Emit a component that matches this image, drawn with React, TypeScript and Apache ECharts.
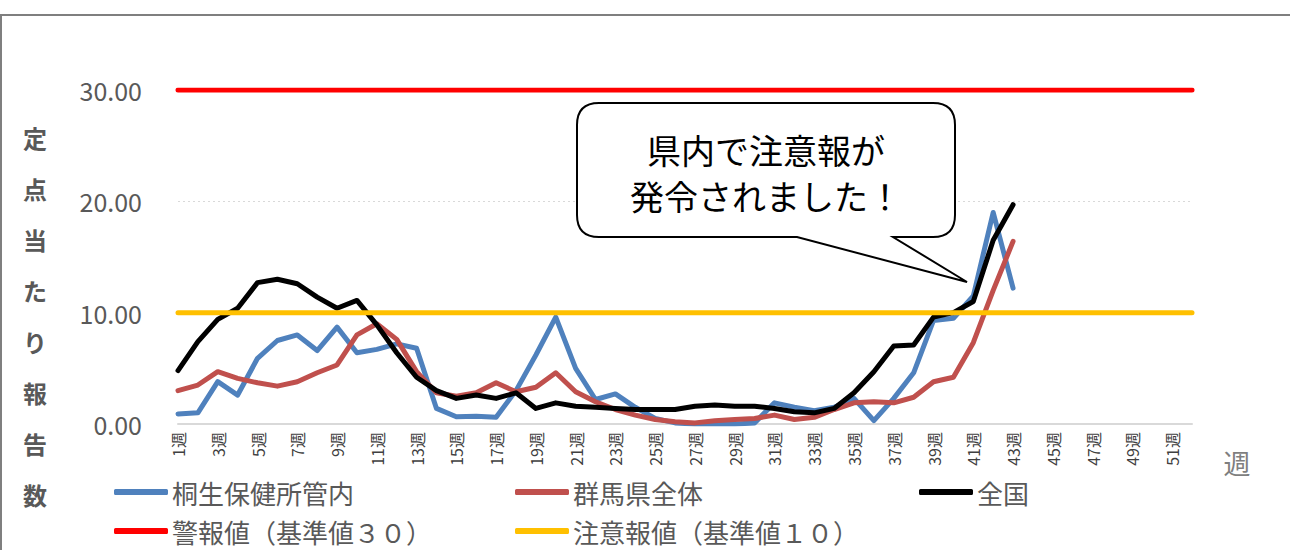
import React, { useEffect, useRef } from "react";
import * as echarts from "echarts";

const weeks = [
  "1週","2週","3週","4週","5週","6週","7週","8週","9週","10週",
  "11週","12週","13週","14週","15週","16週","17週","18週","19週","20週",
  "21週","22週","23週","24週","25週","26週","27週","28週","29週","30週",
  "31週","32週","33週","34週","35週","36週","37週","38週","39週","40週",
  "41週","42週","43週","44週","45週","46週","47週","48週","49週","50週",
  "51週","52週",
];

const kiryu = [0.9,1.0,3.8,2.6,5.9,7.5,8.0,6.6,8.7,6.4,6.7,7.2,6.8,1.4,0.65,0.7,0.6,3.0,6.2,9.6,5.0,2.2,2.7,1.5,0.5,0.1,0.0,0.0,0.0,0.1,1.9,1.5,1.2,1.5,2.3,0.3,2.3,4.6,9.3,9.5,11.5,19.0,12.2];
const gunma = [3.0,3.5,4.7,4.1,3.7,3.4,3.8,4.6,5.3,8.0,9.0,7.6,4.7,2.8,2.5,2.8,3.7,2.9,3.3,4.6,2.9,2.0,1.3,0.8,0.4,0.2,0.1,0.3,0.4,0.5,0.8,0.4,0.6,1.3,1.9,2.0,1.9,2.4,3.8,4.2,7.3,12.0,16.4];
const zenkoku = [4.8,7.4,9.4,10.4,12.7,13.0,12.6,11.4,10.4,11.1,8.9,6.4,4.2,3.0,2.3,2.6,2.3,2.8,1.4,1.9,1.6,1.5,1.4,1.3,1.3,1.3,1.6,1.7,1.6,1.6,1.4,1.1,1.0,1.4,2.8,4.7,7.0,7.1,9.6,10.0,11.0,16.5,19.7];
const warningLevel = 30;
const cautionLevel = 10;
const yTicks = [0, 10, 20, 30];

const seriesNames = ["桐生保健所管内", "群馬県全体", "全国", "警報値（基準値３０）", "注意報値（基準値１０）"];
const yAxisTitle = "定点当たり報告数";
const calloutLines = ["県内で注意報が", "発令されました！"];

const FONT = '"Noto Sans CJK JP", "Noto Sans", sans-serif';

export default function App() {
  const ref = useRef<HTMLDivElement>(null);
  useEffect(() => {
    document.body.style.margin = "0";
    if (!ref.current) return;
    const chart = echarts.init(ref.current, undefined, { renderer: "svg" });

    const W = 378, H = 134, r = 22;
    const d = `M ${r} 0 L ${W - r} 0 Q ${W} 0 ${W} ${r} L ${W} ${H - r} Q ${W} ${H} ${W - r} ${H} L 316 ${H} L 390 179 L 220 ${H} L ${r} ${H} Q 0 ${H} 0 ${H - r} L 0 ${r} Q 0 0 ${r} 0 Z`;
    echarts.graphic.registerShape("callout", echarts.graphic.extendPath(d, {}));

    const colors = ["#4f81bd", "#c0504d", "#000000", "#ff0000", "#ffc000"];
    const lineSeries = (name: string, data: number[], color: string, z: number) => ({
      name,
      type: "line",
      data,
      symbol: "none",
      z,
      itemStyle: { color },
      lineStyle: { color, width: 5, cap: "round", join: "round" },
    });

    const legendPos = [
      { left: 114, top: 479 },
      { left: 515, top: 479 },
      { left: 919, top: 479 },
      { left: 114, top: 518 },
      { left: 515, top: 518 },
    ];

    const graphics: any[] = [
      { type: "line", shape: { x1: 0, y1: 15, x2: 1290, y2: 15 }, style: { stroke: "#7f7f7f", lineWidth: 2 } },
      { type: "line", shape: { x1: 1, y1: 15, x2: 1, y2: 550 }, style: { stroke: "#7f7f7f", lineWidth: 2 } },
      {
        type: "text",
        x: 1237,
        y: 462,
        style: { text: "週", fill: "#7f7f7f", font: `27px ${FONT}`, textAlign: "center", textVerticalAlign: "middle" },
      },
      {
        type: "callout",
        x: 577,
        y: 103,
        z: 100,
        style: { fill: "#ffffff", stroke: "#000000", lineWidth: 2 },
      },
    ];
    calloutLines.forEach((t, i) => {
      graphics.push({
        type: "text",
        x: 766,
        y: 149 + i * 46,
        z: 101,
        style: { text: t, fill: "#000000", font: `34px ${FONT}`, textAlign: "center", textVerticalAlign: "middle" },
      });
    });
    yAxisTitle.split("").forEach((ch, i) => {
      graphics.push({
        type: "text",
        x: 35,
        y: 137 + i * 51,
        style: { text: ch, fill: "#595959", font: `bold 24px ${FONT}`, textAlign: "center", textVerticalAlign: "middle" },
      });
    });

    chart.setOption({
      animation: false,
      backgroundColor: "#ffffff",
      textStyle: { fontFamily: FONT },
      grid: { left: 178, right: 98, top: 90, bottom: 126, containLabel: false },
      legend: seriesNames.map((n, i) => ({
        data: [n],
        left: legendPos[i].left,
        top: legendPos[i].top,
        icon: "roundRect",
        itemWidth: 54,
        itemHeight: 6,
        itemGap: 4,
        padding: 0,
        selectedMode: false,
        textStyle: { fontSize: 26, lineHeight: 26, color: "#595959", fontFamily: FONT, padding: [0, 0, 0, -1] },
      })),
      xAxis: {
        type: "category",
        data: weeks,
        boundaryGap: false,
        axisLine: { show: true, lineStyle: { color: "#d9d9d9", width: 2 } },
        axisTick: { show: false },
        axisLabel: { interval: 1, rotate: 90, fontSize: 16, color: "#404040", margin: 8, fontFamily: FONT },
        splitLine: { show: false },
      },
      yAxis: {
        type: "value",
        min: yTicks[0],
        max: yTicks[yTicks.length - 1],
        interval: 10,
        axisLine: { show: false },
        axisTick: { show: false },
        axisLabel: {
          formatter: (v: number) => v.toFixed(2),
          fontSize: 25,
          color: "#595959",
          margin: 36,
          fontFamily: FONT,
        },
        splitLine: { show: true, lineStyle: { color: "#d9d9d9", width: 1, type: [2, 3] } },
      },
      series: [
        lineSeries(seriesNames[0], kiryu, colors[0], 2),
        lineSeries(seriesNames[1], gunma, colors[1], 3),
        lineSeries(seriesNames[2], zenkoku, colors[2], 4),
        lineSeries(seriesNames[3], weeks.map(() => warningLevel), colors[3], 5),
        lineSeries(seriesNames[4], weeks.map(() => cautionLevel), colors[4], 5),
      ],
      graphic: graphics,
    });
    return () => chart.dispose();
  }, []);
  return <div ref={ref} style={{ width: 1290, height: 550 }} />;
}
